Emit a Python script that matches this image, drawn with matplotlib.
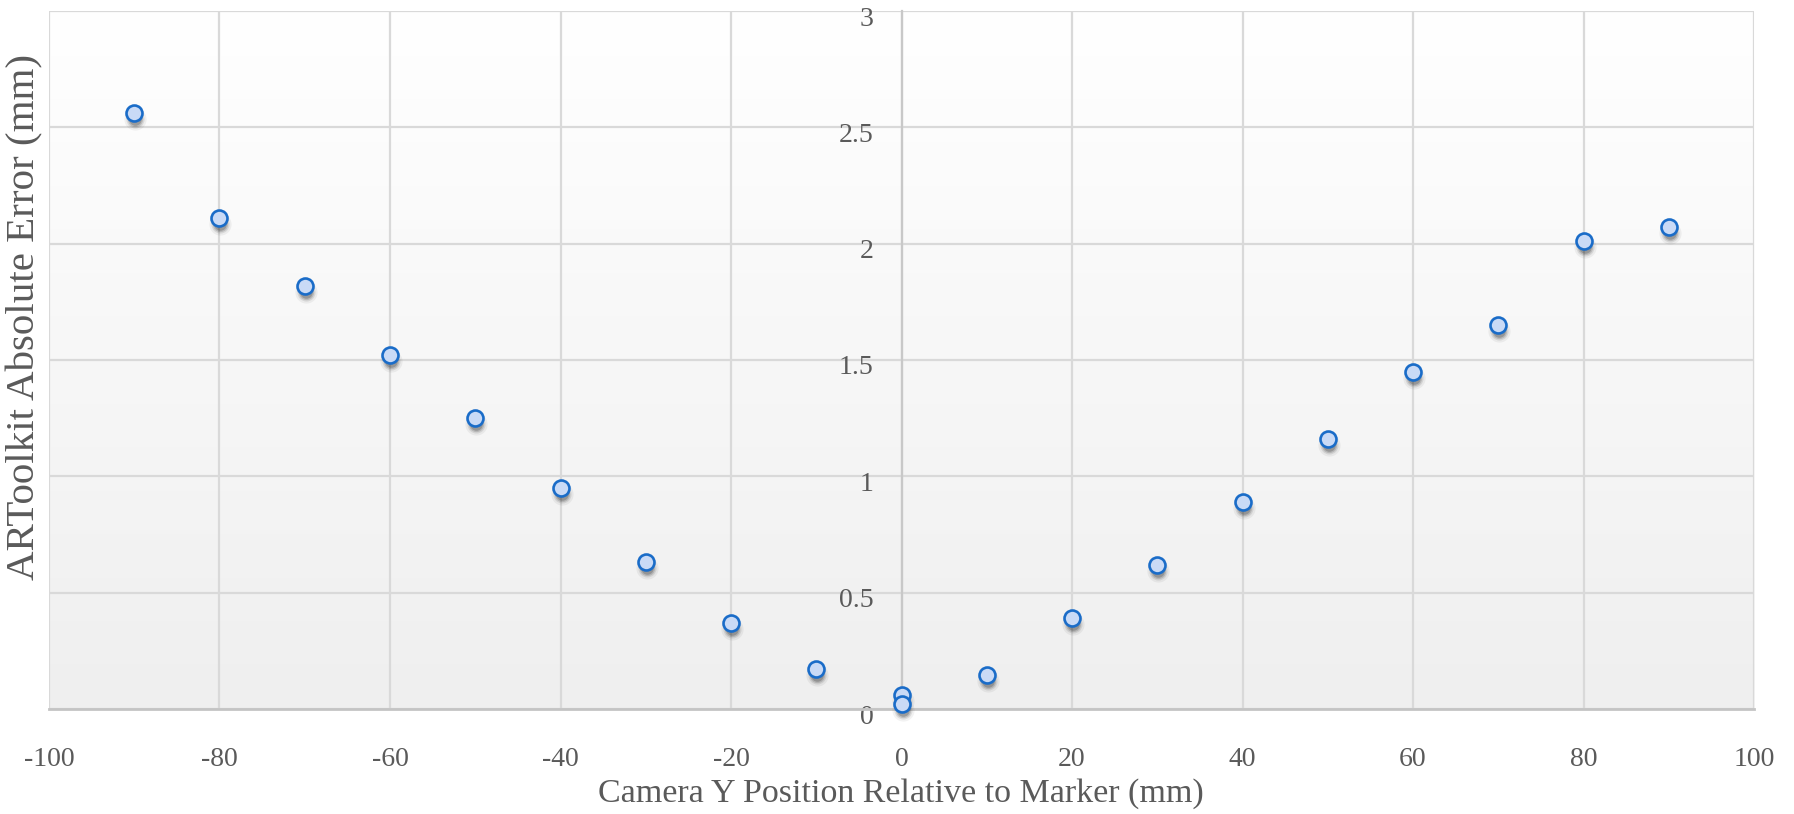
import matplotlib
matplotlib.use("Agg")
import matplotlib.pyplot as plt
import matplotlib.transforms as mtransforms
import numpy as np

# camera y position (mm) and ARToolkit absolute error (mm)
pos_y = [-90, -80, -70, -60, -50, -40, -30, -20, -10, 0, 0, 10, 20, 30, 40, 50, 60, 70, 80, 90]
err = [2.56, 2.11, 1.82, 1.52, 1.25, 0.95, 0.63, 0.37, 0.17, 0.06, 0.02,
       0.145, 0.39, 0.62, 0.89, 1.16, 1.45, 1.65, 2.01, 2.07]

x_ticks = [-100, -80, -60, -40, -20, 0, 20, 40, 60, 80, 100]
y_ticks = [0, 0.5, 1, 1.5, 2, 2.5, 3]
y_tick_labels = ["0", "0.5", "1", "1.5", "2", "2.5", "3"]

plt.rcParams['font.family'] = ['Liberation Serif', 'DejaVu Serif']
plt.rcParams['axes.unicode_minus'] = False
txt_col = "#5a5a5a"

fig = plt.figure(figsize=(17.94, 8.14), dpi=100)
ax = fig.add_axes([49/1794, 105/814, 1705/1794, 698/814])

# light gradient background, white on top
grad = np.linspace(0, 1, 256).reshape(-1, 1)
ax.imshow(grad, extent=[0, 1, 0, 1], transform=ax.transAxes, aspect='auto',
          cmap=matplotlib.colors.LinearSegmentedColormap.from_list("bg", ["#efefef", "#ffffff"]),
          origin='lower', zorder=0)

ax.set_xlim(-100, 100)
ax.set_ylim(0, 3)
ax.set_xticks(x_ticks)
ax.set_yticks(y_ticks)
ax.set_yticklabels(y_tick_labels)
ax.grid(True, color="#d9d9d9", linewidth=1.6, zorder=1)
ax.set_axisbelow(True)

for s in ['top', 'right']:
    ax.spines[s].set_visible(False)
ax.spines['left'].set_position(('data', 0))
ax.spines['left'].set_color("#c8c8c8")
ax.spines['left'].set_linewidth(1.6)
ax.spines['bottom'].set_color("#c4c4c4")
ax.spines['bottom'].set_linewidth(2)

ax.tick_params(axis='both', length=0, labelsize=20, labelcolor=txt_col)
ax.tick_params(axis='x', pad=27)
ax.tick_params(axis='y', pad=20)
for lab in ax.get_yticklabels():
    lab.set_transform(lab.get_transform() + mtransforms.ScaledTranslation(0, -5/100, fig.dpi_scale_trans))

# soft shadow under points
for k, a in [(10, 0.05), (7, 0.09), (5, 0.13), (3, 0.18)]:
    sh = mtransforms.offset_copy(ax.transData, fig=fig, x=1, y=-6, units='dots')
    ax.plot(pos_y, err, 'o', ms=k + 6, color="#000000", alpha=a, mec='none',
            transform=sh, zorder=3, clip_on=False)

ax.plot(pos_y, err, 'o', ms=11.5, mfc="#c9daf6", mec="#1a6cc8", mew=1.9,
        zorder=4, clip_on=False)

fig.text(901/1794, (814 - 794)/814, "Camera Y Position Relative to Marker (mm)",
         ha='center', va='center', fontsize=24.5, color=txt_col)
fig.text(25/1794, (814 - 317)/814, "ARToolkit Absolute Error (mm)",
         ha='center', va='center', rotation=90, fontsize=29.5, color=txt_col)

fig.savefig("out.png", dpi=100, facecolor='white')
